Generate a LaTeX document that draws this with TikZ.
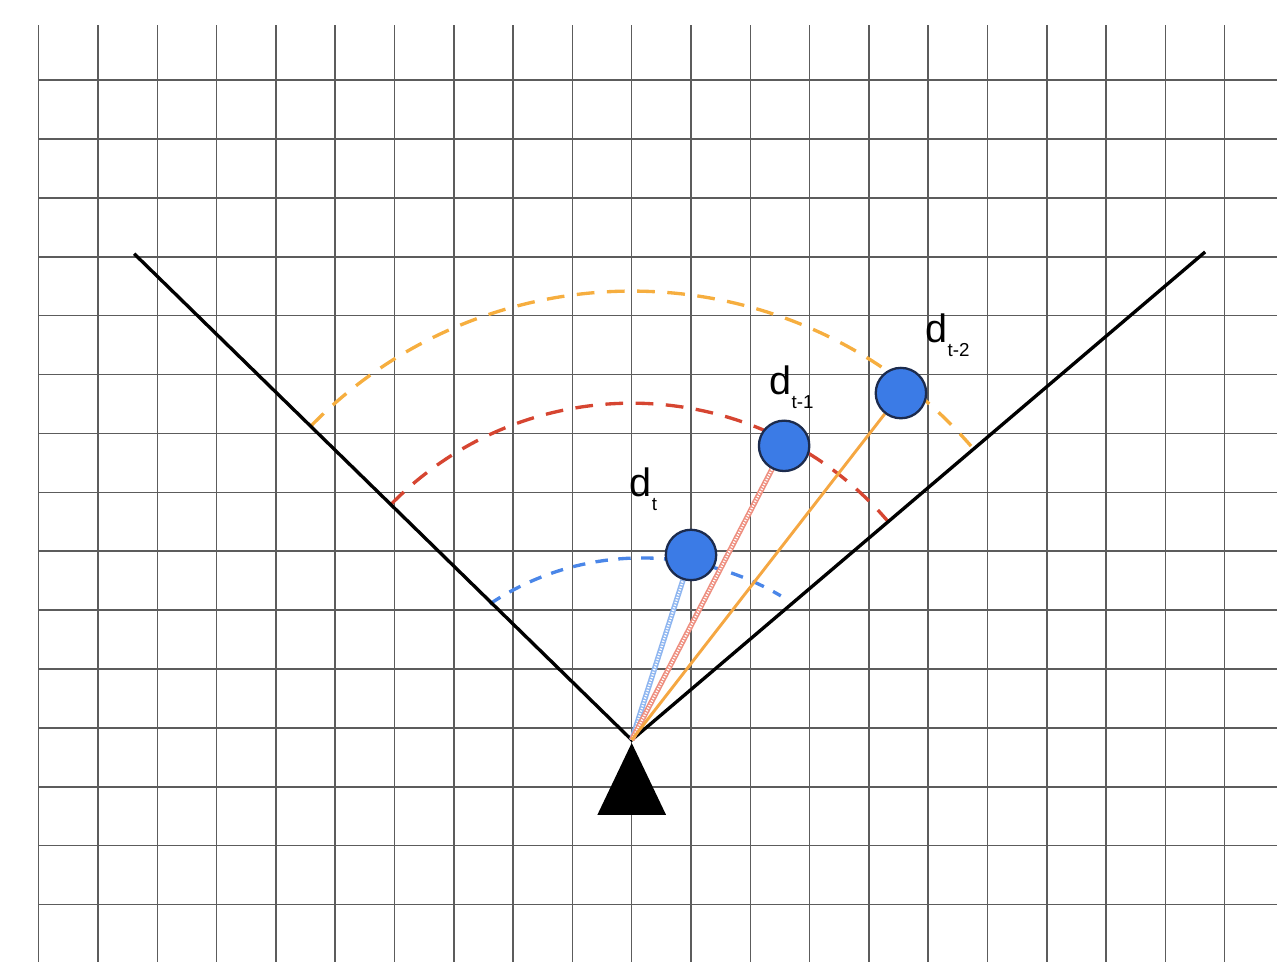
\documentclass[tikz,border=0pt]{standalone}
\usepackage{fontspec}
\setmainfont{Liberation Sans}
\usepackage{xcolor}
\usetikzlibrary{backgrounds}
\definecolor{grid-gray}{HTML}{5C5C5C}
\definecolor{arc-blue}{HTML}{4A86E8}
\definecolor{arc-red}{HTML}{D64531}
\definecolor{arc-orange}{HTML}{F6AE3F}
\definecolor{ray-blue}{HTML}{8FB6F0}
\definecolor{ray-red}{HTML}{EE8F80}
\definecolor{ray-orange}{HTML}{F5A742}
\definecolor{target-fill}{HTML}{3B7BE6}
\definecolor{target-edge}{HTML}{1C2B4D}
\newcommand{\dsub}[1]{d\raisebox{-7pt}{\fontsize{9}{9}\selectfont #1}}

\begin{document}
\begin{tikzpicture}[every node/.style={font=\fontsize{19}{19}\selectfont},
    arcline/.style={line width=1.6pt, dash pattern=on 8.5pt off 6pt},
    hatched/.style={line width=2.6pt, postaction={draw=white, line width=1.1pt, dash pattern=on 0.6pt off 0.7pt}},
    target/.style={circle, draw=target-edge, fill=target-fill, line width=1.1pt, minimum size=0.85cm, inner sep=0pt}]
    \useasboundingbox (-10.653,-3.744) rectangle (10.882,12.479);
    \coordinate (apex) at (0,0);
    % detections
    \node[target] (dt) at (1.0,3.12) {};
    \node[target] (dt1) at (2.57,4.96) {};
    \node[target] (dt2) at (4.54,5.85) {};
    \begin{pgfonlayer}{background}
      % grid
      \foreach \x in {-10,...,10}
        \draw[grid-gray, line width=0.75pt] (\x,-3.744) -- (\x,12.06);
      \foreach \n in {-3,...,11}
        \draw[grid-gray, line width=0.75pt] (-10,0.204+0.993*\n) -- (10.882,0.204+0.993*\n);
      % range arcs
      \draw[arcline, color=arc-orange] (apex) ++(135.6:7.57) arc[start angle=135.6, end angle=40.9, radius=7.57];
      \draw[arcline, color=arc-red] (apex) ++(135.6:5.68) arc[start angle=135.6, end angle=40.6, radius=5.68];
      \draw[arcline, dash pattern=on 6pt off 5pt, color=arc-blue] (0.17,-1.55) ++(123.7:4.62) arc[start angle=123.7, end angle=59.5, radius=4.62];
      % field of view
      \coordinate (fovl) at (-8.39,8.20);
      \coordinate (fovr) at (9.67,8.23);
      \draw[line width=1.6pt] (fovl) -- (apex) -- (fovr);
      % rays
      \draw[hatched, color=ray-blue] (apex) -- (dt);
      \draw[hatched, color=ray-red] (apex) -- (dt1);
      \draw[line width=1.4pt, color=ray-orange] (apex) -- (dt2);
    \end{pgfonlayer}
    % sensor
    \fill (0,-0.05) -- (0.58,-1.265) -- (-0.58,-1.265) -- cycle;
    \node[anchor=base west, inner sep=0pt] (lt) at (-0.04,4.11) {\dsub{t}};
    \node[anchor=base west, inner sep=0pt] (lt1) at (2.32,5.83) {\dsub{t-1}};
    \node[anchor=base west, inner sep=0pt] (lt2) at (4.95,6.71) {\dsub{t-2}};
  \end{tikzpicture}
\end{document}
